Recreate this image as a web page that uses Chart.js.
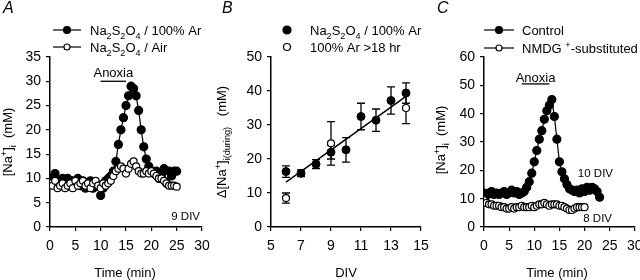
<!DOCTYPE html>
<html>
<head>
<meta charset="utf-8">
<script src="https://cdn.jsdelivr.net/npm/chart.js@4.4.1/dist/chart.umd.min.js"></script>
<style>
  body { margin: 0; background: #fff; }
  #wrap { position: relative; width: 640px; height: 280px; }
  canvas { position: absolute; left: 0; top: 0; }
</style>
</head>
<body>
<div id="wrap">
  <canvas id="chartA" width="640" height="280"></canvas>
  <canvas id="chartB" width="640" height="280"></canvas>
  <canvas id="chartC" width="640" height="280"></canvas>
</div>
<script>
// ---- Panel A: [Na+]i vs time, Na2S2O4 in Ar / in air (9 DIV)
const timeA = [0,0.5,1,1.5,2,2.5,3,3.5,4,4.5,5,5.5,6,6.5,7,7.5,8,8.5,9,9.5,
  10,10.5,11,11.5,12,12.5,13,13.5,14,14.5,15,15.5,16,16.5,17,17.5,18,18.5,19,19.5,
  20,20.5,21,21.5,22,22.5,23,23.5,24,24.5,25];
const naArA = [10,9,11,9.5,8.5,10,9,10,8.5,9.5,
  9,10,8.5,9.5,8,9,9.5,8,9,8.5,
  6.5,8,9.5,10,10.5,11.5,13.5,17,20,22.5,
  25,27,29,28.5,27,24,20,16.5,14,12.5,
  11.5,11,11.5,10,11,12,9,11.5,10.5,11.5,
  11.5];
const naAirA = [9,8.5,9.5,8,8.5,9,8,8.5,9,8,
  9.5,8.5,9,9.5,8.5,9,8,9,9.5,8.5,
  8,9,8.5,9,9.5,10.5,11.5,12,12.5,12,
  11,12,13,13.5,12.5,11.5,11,11,11.5,11,
  11.5,11,10.5,10,10,9.5,9,8.5,8.5,8.5,
  8.3];
const anoxiaA = [10, 15];

// ---- Panel B: delta [Na+]i during anoxia vs DIV
const divAr = [6,7,8,9,10,11,12,13,14];
const deltaAr = [16.3,15.8,18.5,22,22.7,32.5,31.4,37.2,39.4];
const errAr = [1.7,1.0,1.3,2.0,3.6,3.9,3.3,4.0,3.0];
const divLong = [6,9,14];
const deltaLong = [8.5,24.6,35];
const errLong = [1.5,6.4,4.6];
const fitX = [6,14];
const fitY = [13.2,38.4];

// ---- Panel C: control vs NMDG+-substituted
const timeC = [0,0.5,1,1.5,2,2.5,3,3.5,4,4.5,5,5.5,6,6.5,7,7.5,8,8.5,9,9.5,
  10,10.5,11,11.5,12,12.5,13,13.5,14,14.5,15,15.5,16,16.5,17,17.5,18,18.5,19,19.5,
  20,20.5,21,21.5,22,22.5,23];
const naControl = [12,11,12,12.5,11.5,12,11.5,12,12.5,11.5,
  12,13,12,12.5,11.5,12,12.5,14,16,19,
  23,27,31,34,38,41,43,45,39,31,
  23,19.5,17,15,13.5,13,12.5,13,12,13.5,
  12.5,14,13,14,13.5,12.5,10.5];
const timeN = [0,0.5,1,1.5,2,2.5,3,3.5,4,4.5,5,5.5,6,6.5,7,7.5,8,8.5,9,9.5,
  10,10.5,11,11.5,12,12.5,13,13.5,14,14.5,15,15.5,16,16.5,17,17.5,18,18.5,19,19.5,20];
const naNmdg = [9.5,8.5,8,8,7.5,7.5,7.5,7,7,6.5,
  6.5,7,6.5,7,7,7.5,7,7,7,7.5,
  7,7.5,8,8,8.5,8,7.5,8,8,8,
  7.5,7.5,7,6.5,6,6,6.5,7,7,7,
  7];
const anoxiaC = [7.5, 13];

const FONT = '"Liberation Sans", Arial, Helvetica, sans-serif';
Chart.defaults.font.family = FONT;
Chart.defaults.font.size = 13;
Chart.defaults.color = '#000';

function pts(xs, ys) {
  return xs.map((x, i) => ({ x: x, y: ys[i] }));
}

function axis(min, max, step, vertical) {
  return {
    type: 'linear', min: min, max: max,
    ticks: { stepSize: step, color: '#000', padding: vertical ? 5 : 7, font: { size: 14 } },
    grid: { drawOnChartArea: false, drawTicks: true, tickLength: 4, color: '#000', lineWidth: 1.2 },
    border: { display: true, color: '#000', width: 1.5 },
    afterFit(s) {
      if (vertical) s.width = 30; else s.height = 30;
      s.paddingLeft = 0; s.paddingRight = 0; s.paddingTop = 0; s.paddingBottom = 0;
    }
  };
}

// text with sub/superscripts: parts = [[text, ''|'sub'|'sup'], ...]
function rich(ctx, x, y, parts, size, align) {
  const small = size * 0.7;
  let w = 0;
  parts.forEach(p => {
    ctx.font = (p[1] ? small : size) + 'px ' + FONT;
    w += ctx.measureText(p[0]).width;
  });
  let cx = align === 'center' ? x - w / 2 : x;
  ctx.textAlign = 'left';
  ctx.textBaseline = 'alphabetic';
  ctx.fillStyle = '#000';
  parts.forEach(p => {
    ctx.font = (p[1] ? small : size) + 'px ' + FONT;
    const dy = p[1] === 'sub' ? size * 0.32 : p[1] === 'sup' ? -size * 0.42 : 0;
    ctx.fillText(p[0], cx, y + dy);
    cx += ctx.measureText(p[0]).width;
  });
}

function richRot(ctx, cx, cy, parts, size) {
  ctx.save();
  ctx.translate(cx, cy);
  ctx.rotate(-Math.PI / 2);
  rich(ctx, 0, 0, parts, size, 'center');
  ctx.restore();
}

function marker(ctx, x, y, r, filled) {
  ctx.beginPath();
  ctx.arc(x, y, r, 0, Math.PI * 2);
  ctx.fillStyle = filled ? '#000' : '#fff';
  ctx.fill();
  ctx.lineWidth = 1.2;
  ctx.strokeStyle = '#000';
  ctx.stroke();
}

function legendRow(ctx, x1, x2, y, filled, r) {
  ctx.beginPath();
  ctx.moveTo(x1, y); ctx.lineTo(x2, y);
  ctx.lineWidth = 1.2; ctx.strokeStyle = '#000';
  ctx.stroke();
  marker(ctx, (x1 + x2) / 2, y, r, filled);
}

function plainText(ctx, s, x, y, size, style, align) {
  ctx.font = (style ? style + ' ' : '') + size + 'px ' + FONT;
  ctx.fillStyle = '#000';
  ctx.textAlign = align || 'left';
  ctx.textBaseline = 'alphabetic';
  ctx.fillText(s, x, y);
}

function anoxiaBar(chart, range, level, textY) {
  const ctx = chart.ctx, xs = chart.scales.x, ys = chart.scales.y;
  const x1 = xs.getPixelForValue(range[0]), x2 = xs.getPixelForValue(range[1]);
  const y = ys.getPixelForValue(level);
  ctx.beginPath();
  ctx.moveTo(x1, y); ctx.lineTo(x2, y);
  ctx.lineWidth = 1.3; ctx.strokeStyle = '#000';
  ctx.stroke();
  plainText(ctx, 'Anoxia', (x1 + x2) / 2, y - textY, 13, '', 'center');
}

const naS2O4 = [['Na',''],['2','sub'],['S',''],['2','sub'],['O',''],['4','sub'],[' / 100% Ar','']];
const naTitle = [['[Na',''],['+','sup'],[']',''],['i','sub'],['  (mM)','']];

function timeDataset(data, filled, ord) {
  return {
    data: data,
    showLine: true,
    borderColor: '#000',
    borderWidth: 1.2,
    pointRadius: filled ? 4 : 3.5,
    pointBorderWidth: 1.2,
    pointBorderColor: '#000',
    pointBackgroundColor: filled ? '#000' : '#fff',
    order: ord
  };
}

const baseOpts = {
  responsive: false,
  animation: false,
  plugins: { legend: { display: false }, tooltip: { enabled: false } }
};

// ---------- Chart A
new Chart(document.getElementById('chartA'), {
  type: 'scatter',
  data: {
    datasets: [
      timeDataset(pts(timeA, naArA), true, 1),
      timeDataset(pts(timeA, naAirA), false, 0)
    ]
  },
  options: {
    ...baseOpts,
    layout: { padding: { left: 20, right: 438, top: 57, bottom: 23 } },
    scales: { x: axis(0, 30, 5, false), y: axis(0, 35, 5, true) }
  },
  plugins: [{
    id: 'decorA',
    afterDraw(chart) {
      const ctx = chart.ctx;
      plainText(ctx, 'A', 3, 13, 16, 'italic');
      legendRow(ctx, 53, 81, 30, true, 3.5);
      legendRow(ctx, 53, 81, 47, false, 3);
      rich(ctx, 90, 35, naS2O4, 13, 'left');
      rich(ctx, 90, 52, naS2O4.slice(0, 6).concat([[' / Air','']]), 13, 'left');
      anoxiaBar(chart, anoxiaA, 30, 4);
      plainText(ctx, '9 DIV', 200, 220, 11.5, '', 'right');
      plainText(ctx, 'Time (min)', 125, 277, 13, '', 'center');
      richRot(ctx, 12, 142, naTitle, 13);
    }
  }]
});

// ---------- Chart B
new Chart(document.getElementById('chartB'), {
  type: 'scatter',
  data: {
    datasets: [
      {
        data: pts(divAr, deltaAr),
        pointRadius: 4, pointBackgroundColor: '#000', pointBorderColor: '#000', pointBorderWidth: 1,
        order: 1
      },
      {
        data: pts(divLong, deltaLong),
        pointRadius: 3.5, pointBackgroundColor: '#fff', pointBorderColor: '#000', pointBorderWidth: 1.2,
        order: 0
      },
      {
        data: pts(fitX, fitY),
        showLine: true, borderColor: '#000', borderWidth: 1.5, pointRadius: 0,
        order: 2
      }
    ]
  },
  options: {
    ...baseOpts,
    layout: { padding: { left: 241, right: 219, top: 57, bottom: 23 } },
    scales: { x: axis(5, 15, 2, false), y: axis(0, 50, 10, true) }
  },
  plugins: [{
    id: 'errorBars',
    beforeDatasetsDraw(chart) {
      const ctx = chart.ctx, xs = chart.scales.x, ys = chart.scales.y;
      ctx.save();
      ctx.strokeStyle = '#000';
      ctx.lineWidth = 1.3;
      const draw = (xv, yv, ev) => {
        xv.forEach((d, i) => {
          const x = xs.getPixelForValue(d);
          const yt = ys.getPixelForValue(yv[i] + ev[i]);
          const yb = ys.getPixelForValue(yv[i] - ev[i]);
          ctx.beginPath();
          ctx.moveTo(x, yt); ctx.lineTo(x, yb);
          ctx.moveTo(x - 4, yt); ctx.lineTo(x + 4, yt);
          ctx.moveTo(x - 4, yb); ctx.lineTo(x + 4, yb);
          ctx.stroke();
        });
      };
      draw(divAr, deltaAr, errAr);
      draw(divLong, deltaLong, errLong);
      ctx.restore();
    },
    afterDraw(chart) {
      const ctx = chart.ctx;
      plainText(ctx, 'B', 222, 13, 16, 'italic');
      marker(ctx, 287, 30, 4, true);
      marker(ctx, 287, 47, 3.5, false);
      rich(ctx, 310, 35, naS2O4, 13, 'left');
      plainText(ctx, '100% Ar >18 hr', 310, 52, 13, '');
      plainText(ctx, 'DIV', 346, 277, 13, '', 'center');
      richRot(ctx, 226, 142, [['\u0394[Na',''],['+','sup'],[']',''],['i(during)','sub'],['   (mM)','']], 13);
    }
  }]
});

// ---------- Chart C
new Chart(document.getElementById('chartC'), {
  type: 'scatter',
  data: {
    datasets: [
      timeDataset(pts(timeC, naControl), true, 1),
      timeDataset(pts(timeN, naNmdg), false, 0)
    ]
  },
  options: {
    ...baseOpts,
    layout: { padding: { left: 454, right: 5, top: 57, bottom: 23 } },
    scales: { x: axis(0, 30, 5, false), y: axis(0, 60, 10, true) }
  },
  plugins: [{
    id: 'decorC',
    afterDraw(chart) {
      const ctx = chart.ctx;
      plainText(ctx, 'C', 437, 13, 16, 'italic');
      legendRow(ctx, 484, 514, 30, true, 3.5);
      legendRow(ctx, 484, 514, 48, false, 3);
      plainText(ctx, 'Control', 522, 35, 13, '');
      rich(ctx, 522, 53, [['NMDG ',''],['+','sup'],['-substituted','']], 13, 'left');
      anoxiaBar(chart, anoxiaC, 50.5, 2);
      plainText(ctx, '10 DIV', 613, 177, 11.5, '', 'right');
      plainText(ctx, '8 DIV', 612, 222, 11.5, '', 'right');
      plainText(ctx, 'Time (min)', 557, 277, 13, '', 'center');
      richRot(ctx, 445, 140, naTitle, 13);
    }
  }]
});
</script>
</body>
</html>
